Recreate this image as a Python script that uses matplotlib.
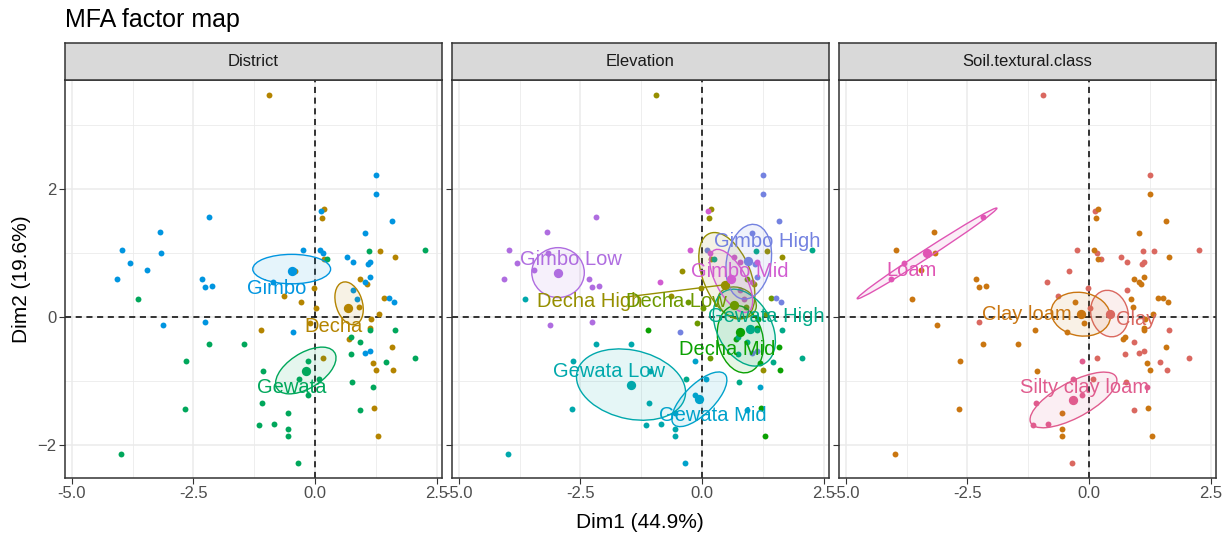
import numpy as np
import matplotlib.pyplot as plt
from matplotlib.patches import Ellipse
import matplotlib.colors as mcolors

plt.rcParams['font.family'] = ['Liberation Sans', 'DejaVu Sans']

# === individuals (Dim1, Dim2) with their elevation class and soil class ===
dim1 = [1.26, 1.26, 1.58, 1.02, -2.17, -3.19, -3.96, -3.16, -3.81, -3.45,
        -4.07, -2.33, -2.27, -2.12, -0.87, -0.25, 0.12, 0.10, 0.17, 0.66,
        0.78, 1.12, 1.08, 1.14, 1.02, 0.78, 0.86, 1.52, 1.62, -3.12,
        -2.27, -0.46, 1.02, 1.14,
        -0.94, 0.19, 0.14, 1.34, 1.64, 0.19, -0.42, 0.93, 1.07, -0.03,
        -0.64, -0.29, 0.02, 1.41, 0.90, 1.32, 1.15, 1.14, -1.11, -0.11,
        0.69, 1.58, 0.16, 1.20, 1.26, 1.61, 1.22, 1.29,
        2.27, 1.11, 0.24, -3.63, 1.64, 1.14, 0.73, 0.93, -2.17, -1.47,
        0.73, 2.06, 1.46, -2.65, -0.14, -1.06, -0.32, 0.09, 0.75, 1.20,
        -0.14, -1.09, -2.68, 0.93, -0.55, -1.15, -0.85, -0.55, -0.55, -3.98,
        -0.34]
dim2 = [2.21, 1.92, 1.49, 1.31, 1.56, 1.33, 1.04, 1.00, 0.84, 0.73,
        0.59, 0.59, 0.46, 0.48, 0.55, 1.04, 1.65, 1.04, 0.99, 0.94,
        0.86, 0.86, 0.83, 0.62, 0.54, 0.42, 0.27, 0.30, 0.23, -0.13,
        -0.08, -0.24, -0.56, -0.54,
        3.46, 1.68, 1.54, 1.02, 0.93, 0.91, 0.71, 0.59, 0.51, 0.45,
        0.32, 0.23, 0.14, 0.30, 0.16, 0.05, -0.03, -0.18, -0.21, -0.10,
        -0.35, -0.48, -0.65, -0.73, -0.83, -0.83, -1.42, -1.87,
        1.04, 1.02, 0.91, 0.28, -0.21, -0.20, -0.31, -0.40, -0.42, -0.42,
        -0.58, -0.64, -0.71, -0.69, -0.69, -0.85, -0.98, -0.98, -1.02, -1.10,
        -1.23, -1.35, -1.44, -1.46, -1.51, -1.69, -1.67, -1.76, -1.87, -2.14,
        -2.28]
elevation = (["Gimbo High"] * 4 + ["Gimbo Low"] * 10 + ["Gimbo Mid"] * 3 +
             ["Gimbo High", "Gimbo Mid", "Gimbo Mid", "Gimbo Mid", "Gimbo Mid",
              "Gimbo High", "Gimbo High", "Gimbo Mid", "Gimbo Mid", "Gimbo Mid",
              "Gimbo High", "Gimbo High", "Gimbo Low", "Gimbo Low", "Gimbo High",
              "Gimbo High", "Gimbo High"] +
             ["Decha High"] * 7 +
             ["Decha Low", "Decha High", "Decha High", "Decha High", "Decha Low",
              "Decha Low", "Decha Low", "Decha Low", "Decha Low", "Decha Mid",
              "Decha Mid", "Decha Mid", "Decha Low", "Decha Mid", "Decha Mid",
              "Decha Low", "Decha Mid", "Decha High", "Decha Mid", "Decha Mid",
              "Decha Mid"] +
             ["Gewata High", "Gewata High", "Gewata High", "Gewata Low",
              "Gewata High", "Gewata High", "Gewata High", "Gewata High",
              "Gewata Low", "Gewata Low", "Gewata High", "Gewata High",
              "Gewata High", "Gewata Low", "Gewata Mid", "Gewata Low",
              "Gewata High", "Gewata Mid", "Gewata High", "Gewata Mid",
              "Gewata Mid", "Gewata Low", "Gewata Low", "Gewata Mid",
              "Gewata Mid", "Gewata Low", "Gewata Low", "Gewata Low",
              "Gewata Low", "Gewata Low", "Gewata Mid"])
soil = (["Clay", "Clay loam", "Clay loam", "Clay loam", "Loam", "Clay loam",
         "Clay loam", "Clay loam", "Loam", "Clay loam", "Loam", "Clay loam",
         "Clay loam", "Clay loam", "Clay", "Clay", "Clay", "Clay loam", "Clay",
         "Clay", "Clay", "Clay", "Clay", "Clay loam", "Clay loam", "Clay",
         "Clay loam", "Clay loam", "Clay loam", "Clay loam", "Clay", "Clay loam",
         "Clay", "Clay"] +
        ["Clay", "Clay loam", "Clay loam", "Clay", "Clay loam", "Clay loam",
         "Clay", "Clay loam", "Clay loam", "Clay", "Clay", "Clay loam", "Clay",
         "Clay loam", "Clay loam", "Clay loam", "Clay loam", "Clay loam",
         "Clay loam", "Clay loam", "Clay loam", "Clay loam", "Clay", "Clay loam",
         "Clay loam", "Clay", "Clay loam", "Clay loam"] +
        ["Clay", "Clay", "Clay", "Clay loam", "Clay", "Clay loam", "Clay loam",
         "Clay", "Clay loam", "Clay loam", "Clay", "Clay", "Clay", "Clay loam",
         "Silty clay loam", "Clay loam", "Silty clay loam", "Clay", "Clay",
         "Silty clay loam", "Silty clay loam", "Silty clay loam", "Clay loam",
         "Clay", "Clay loam", "Silty clay loam", "Silty clay loam", "Clay loam",
         "Clay loam", "Clay loam", "Clay"])
district = [e.split()[0] for e in elevation]

facets = ["District", "Elevation", "Soil.textural.class"]
groupings = [district, elevation, soil]

# group means: (Dim1, Dim2)
means = {
    "Gimbo": (-0.47, 0.72), "Decha": (0.67, 0.135), "Gewata": (-0.19, -0.84),
    "Decha High": (0.47, 0.50), "Decha Low": (0.66, 0.19), "Decha Mid": (0.79, -0.245),
    "Gewata High": (0.99, -0.19), "Gewata Low": (-1.46, -1.06), "Gewata Mid": (-0.055, -1.29),
    "Gimbo High": (0.95, 0.875), "Gimbo Low": (-2.96, 0.69), "Gimbo Mid": (0.60, 0.59),
    "Clay": (0.43, 0.05), "Clay loam": (-0.17, 0.04), "Loam": (-3.33, 0.99),
    "Silty clay loam": (-0.32, -1.30),
}
# confidence ellipses: (centre x, centre y, semi-axis a, semi-axis b, angle in degrees)
ellipses = {
    "Gimbo": (-0.48, 0.745, 0.80, 0.23, 0), "Decha": (0.70, 0.21, 0.36, 0.26, -58),
    "Gewata": (-0.19, -0.84, 0.66, 0.29, 22),
    "Decha High": (0.51, 0.64, 0.76, 0.46, -55), "Decha Low": (0.72, 0.22, 0.40, 0.24, -10),
    "Decha Mid": (0.79, -0.35, 0.55, 0.45, -60), "Gewata High": (0.87, -0.17, 0.72, 0.50, -40),
    "Gewata Low": (-1.46, -1.06, 1.13, 0.54, -8), "Gewata Mid": (-0.055, -1.29, 0.66, 0.26, 34),
    "Gimbo High": (0.96, 0.86, 0.60, 0.45, 70), "Gimbo Low": (-2.96, 0.69, 0.54, 0.39, 0),
    "Gimbo Mid": (0.60, 0.56, 0.60, 0.28, -50),
    "Clay": (0.42, 0.05, 0.40, 0.35, -30), "Clay loam": (-0.17, 0.04, 0.61, 0.34, -5),
    "Loam": (-3.33, 0.99, 1.60, 0.07, 26.2), "Silty clay loam": (-0.32, -1.30, 0.95, 0.29, 21),
}
# repelled label positions
label_pos = {
    "Gimbo": (-0.79, 0.44), "Decha": (0.37, -0.15), "Gewata": (-0.48, -1.11),
    "Decha High": (-2.32, 0.24), "Decha Low": (-0.52, 0.24), "Decha Mid": (0.51, -0.505),
    "Gewata High": (1.33, 0.0), "Gewata Low": (-1.91, -0.86), "Gewata Mid": (0.23, -1.55),
    "Gimbo High": (1.34, 1.17), "Gimbo Low": (-2.70, 0.89), "Gimbo Mid": (0.78, 0.70),
    "Clay": (0.96, -0.04), "Clay loam": (-1.27, 0.04), "Loam": (-3.64, 0.72),
    "Silty clay loam": (-0.10, -1.11),
}

levels = sorted(set(district) | set(elevation) | set(soil))
hues = ["#F8766D", "#E68613", "#CD9600", "#ABA300", "#7CAE00", "#0CB702", "#00BE67",
        "#00C19A", "#00BFC4", "#00B8E7", "#00A9FF", "#8494FF", "#C77CFF", "#ED68ED",
        "#FF61CC", "#FF68A1"]
colors = {lv: tuple(np.array(mcolors.to_rgb(h)) * 0.88) for lv, h in zip(levels, hues)}

fig = plt.figure(figsize=(12.25, 5.38), dpi=100)
W, H = 1225, 538
x = np.array(dim1)
y = np.array(dim2)

for i, (name, grp) in enumerate(zip(facets, groupings)):
    left = 65 + i * 387
    ax = fig.add_axes([left / W, 60 / H, 377 / W, 398 / H])
    sax = fig.add_axes([left / W, 458 / H, 377 / W, 37 / H])
    sax.set_facecolor('#D9D9D9')
    sax.set_xticks([])
    sax.set_yticks([])
    for sp in sax.spines.values():
        sp.set_color('#333333')
        sp.set_linewidth(1.1)
    sax.text(0.5, 0.5, name, ha='center', va='center', fontsize=12, color='#1A1A1A',
             transform=sax.transAxes)

    ax.set_xlim(-5.14, 2.61)
    ax.set_ylim(-2.52, 3.70)
    ax.set_xticks([-5.0, -2.5, 0.0, 2.5])
    ax.set_xticks([-3.75, -1.25, 1.25], minor=True)
    ax.set_yticks([-2, 0, 2])
    ax.set_yticks([-1, 1, 3], minor=True)
    ax.set_xticklabels(['-5.0', '-2.5', '0.0', '2.5'])
    ax.grid(which='major', color='#EBEBEB', lw=1.1, zorder=0)
    ax.grid(which='minor', color='#EBEBEB', lw=0.6, zorder=0)
    ax.set_axisbelow(True)
    ax.tick_params(which='minor', length=0)
    ax.tick_params(which='major', length=4, color='#333333', labelsize=12,
                   labelcolor='#4D4D4D', pad=2)
    if i > 0:
        ax.set_yticklabels([])
    for sp in ax.spines.values():
        sp.set_color('#333333')
        sp.set_linewidth(1.1)

    ax.axvline(0, color='black', ls=(0, (4, 3)), lw=1.1, zorder=1)
    ax.axhline(0, color='black', ls=(0, (4, 3)), lw=1.1, zorder=1)

    grp = np.array(grp)
    groups = sorted(set(grp))
    for g in groups:
        m = grp == g
        ax.scatter(x[m], y[m], s=18, color=colors[g], lw=0, zorder=2)
    for g in groups:
        cx, cy, a, b, ang = ellipses[g]
        ax.add_patch(Ellipse((cx, cy), 2 * a, 2 * b, angle=ang, facecolor=colors[g],
                             alpha=0.1, lw=0, zorder=3))
        ax.add_patch(Ellipse((cx, cy), 2 * a, 2 * b, angle=ang, facecolor='none',
                             edgecolor=colors[g], lw=1.0, zorder=3))
    for g in groups:
        mx, my = means[g]
        ax.scatter([mx], [my], s=45, color=colors[g], lw=0, zorder=4)
    if name == "Elevation":
        lx, ly = label_pos["Decha High"]
        mx, my = means["Decha High"]
        ax.plot([lx + 0.77, mx], [ly + 0.07, my], color=colors["Decha High"], lw=1.0, zorder=4)
    for g in groups:
        lx, ly = label_pos[g]
        ax.text(lx, ly, g, color=colors[g], fontsize=14.5, ha='center', va='center', zorder=5)

fig.text(65 / W, 518 / H, "MFA factor map", fontsize=18, ha='left', va='center')
fig.text(640 / W, 16 / H, "Dim1 (44.9%)", fontsize=15, ha='center', va='center')
fig.text(22 / W, 259 / H, "Dim2 (19.6%)", fontsize=15, ha='center', va='center', rotation=90)

fig.savefig("out.png", dpi=100)
